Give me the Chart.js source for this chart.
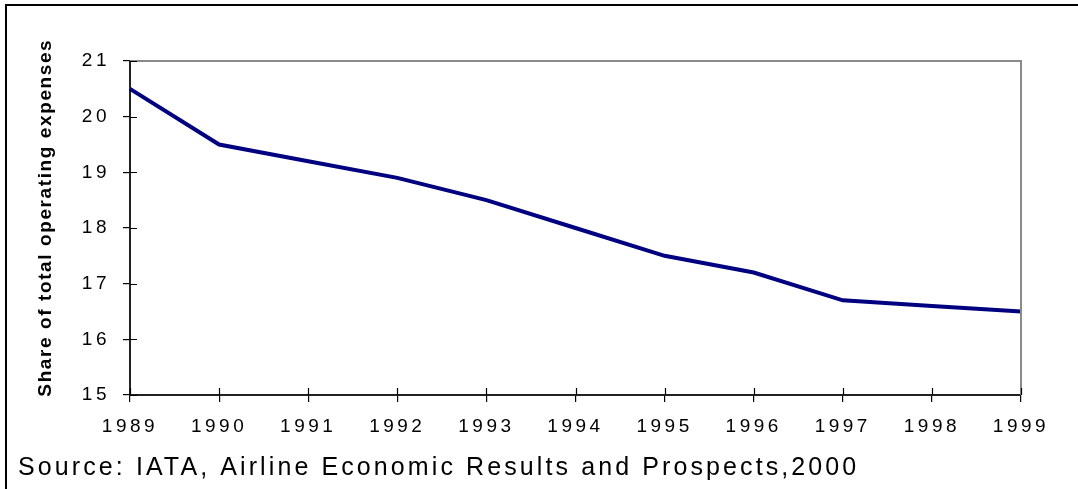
<!DOCTYPE html>
<html>
<head>
<meta charset="utf-8">
<script src="https://cdn.jsdelivr.net/npm/chart.js@4/dist/chart.umd.min.js"></script>
<style>
  html, body { margin: 0; padding: 0; background: #fff; }
  #wrap { position: relative; width: 1078px; height: 489px; overflow: hidden; }
  #frame { position: absolute; left: 5px; top: 4px; width: 1100px; height: 483px;
           border-left: 2px solid #000; border-top: 2px solid #000; border-bottom: 1px solid #777; pointer-events: none; }
  canvas { position: absolute; left: 0; top: 0; }
</style>
</head>
<body>
<div id="wrap">
  <canvas id="c" width="1078" height="489"></canvas>
  <div id="frame"></div>
</div>
<script>
const years = ['1989','1990','1991','1992','1993','1994','1995','1996','1997','1998','1999'];
const shareValues = [20.5, 19.5, 19.2, 18.9, 18.5, 18.0, 17.5, 17.2, 16.7, 16.6, 16.5];
const yAxisTitle = '   Share of total operating expenses';
const sourceNote = 'Source: IATA, Airline Economic Results and Prospects,2000';

// letter spacing by font (the original uses wide character spacing)
function spacingFor(font) {
  const m = /([\d.]+)px/.exec(font);
  const size = m ? parseFloat(m[1]) : 0;
  if (/bold/.test(font)) return '1.6px';
  if (size >= 24) return '3.1px';
  if (size >= 18) return '3.5px';
  return '0px';
}
const P = CanvasRenderingContext2D.prototype;
const origFill = P.fillText, origMeasure = P.measureText;
P.fillText = function(t, x, y, mw) {
  this.letterSpacing = spacingFor(this.font);
  return mw === undefined ? origFill.call(this, t, x, y) : origFill.call(this, t, x, y, mw);
};
P.measureText = function(t) {
  this.letterSpacing = spacingFor(this.font);
  return origMeasure.call(this, t);
};

const FONT = "'Liberation Sans', Arial, sans-serif";

const frameAndTicks = {
  id: 'frameAndTicks',
  afterDraw(chart) {
    const {ctx, chartArea: a, scales: {x, y}} = chart;
    ctx.save();
    ctx.strokeStyle = '#8a8a8a';
    ctx.lineWidth = 2;
    ctx.beginPath();
    ctx.moveTo(a.left, a.top);
    ctx.lineTo(a.right, a.top);
    ctx.lineTo(a.right, a.bottom);
    ctx.stroke();
    ctx.strokeStyle = '#000';
    ctx.lineWidth = 1.2;
    ctx.beginPath();
    y.ticks.forEach((t, i) => {
      const py = Math.round(y.getPixelForTick(i)) + 0.5;
      ctx.moveTo(a.left, py); ctx.lineTo(a.left + 7, py);
    });
    x.ticks.forEach((t, i) => {
      const px = Math.round(x.getPixelForTick(i)) + 0.5;
      ctx.moveTo(px, a.bottom); ctx.lineTo(px, a.bottom - 7);
    });
    ctx.stroke();
    ctx.restore();
  }
};

new Chart(document.getElementById('c'), {
  type: 'line',
  data: {
    labels: years,
    datasets: [{
      data: shareValues,
      borderColor: '#000080',
      borderWidth: 4,
      pointRadius: 0,
      tension: 0,
      fill: false
    }]
  },
  options: {
    responsive: false,
    animation: false,
    events: [],
    layout: { padding: { left: 18, right: 57, top: 61, bottom: 0 } },
    plugins: {
      legend: { display: false },
      tooltip: { enabled: false },
      title: {
        display: true,
        text: sourceNote,
        position: 'bottom',
        align: 'start',
        color: '#000',
        font: { family: FONT, size: 25, weight: 'normal', lineHeight: 1.2 },
        padding: { top: 1, bottom: 6 }
      }
    },
    scales: {
      x: {
        type: 'category',
        offset: false,
        grid: { display: true, drawOnChartArea: false, drawTicks: true, tickLength: 7, color: '#000', lineWidth: 1.2 },
        border: { display: true, color: '#222', width: 2 },
        ticks: { color: '#000', font: { family: FONT, size: 19 }, padding: 13, maxRotation: 0, autoSkip: false },
        afterFit(s) { s.height = 57; }
      },
      y: {
        min: 15, max: 21,
        grid: { display: true, drawOnChartArea: false, drawTicks: true, tickLength: 7, color: '#000', lineWidth: 1.2 },
        border: { display: true, color: '#222', width: 2 },
        ticks: { stepSize: 1, color: '#000', font: { family: FONT, size: 19 }, padding: 13 },
        title: {
          display: true,
          text: yAxisTitle,
          color: '#000',
          font: { family: FONT, size: 19, weight: 'bold', lineHeight: 1.2 },
          padding: { top: 16, bottom: 0 }
        },
        afterFit(s) { s.width = 112; }
      }
    }
  },
  plugins: [frameAndTicks]
});
</script>
</body>
</html>
